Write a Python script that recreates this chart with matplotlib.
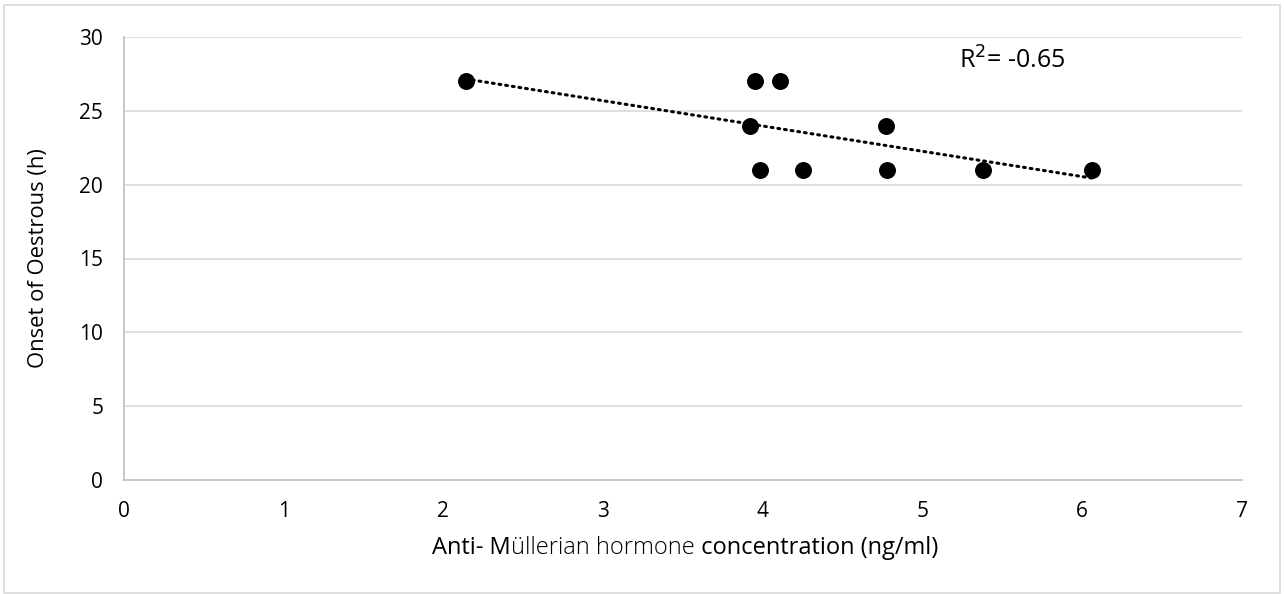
import numpy as np
import matplotlib.pyplot as plt
from matplotlib.offsetbox import TextArea, HPacker, AnchoredOffsetbox

plt.rcParams['font.family'] = ['Open Sans', 'DejaVu Sans']

# data
amh = [2.14, 3.95, 4.11, 3.92, 3.98, 4.25, 4.77, 4.78, 5.38, 6.06]
onset = [27, 27, 27, 24, 21, 21, 24, 21, 21, 21]
x_ticks = [0, 1, 2, 3, 4, 5, 6, 7]
y_ticks = [0, 5, 10, 15, 20, 25, 30]

fig = plt.figure(figsize=(12.84, 5.94), dpi=100)
ax = fig.add_axes([124 / 1284, 1 - 480 / 594, 1118 / 1284, 443 / 594])

# grid
for yv in y_ticks[1:]:
    ax.axhline(yv, color='#d9d9d9', lw=1.2, zorder=0)

ax.scatter(amh, onset, s=125, color='black', zorder=3)

# linear trendline
slope, icpt = np.polyfit(amh, onset, 1)
xs = np.array([min(amh), max(amh)])
ax.plot(xs, slope * xs + icpt, color='black', lw=2.2, linestyle=(0, (0.6, 1.6)),
        dash_capstyle='round', zorder=2)

ax.text(5.23, 28.4, 'R$^2$= -0.65', fontsize=18, va='center', ha='left')

ax.set_xlim(0, 7)
ax.set_ylim(0, 30)
ax.set_xticks(x_ticks)
ax.set_yticks(y_ticks)
ax.tick_params(length=0, labelsize=15, pad=15)
for s in ['top', 'right']:
    ax.spines[s].set_visible(False)
for s in ['left', 'bottom']:
    ax.spines[s].set_color('#bfbfbf')
    ax.spines[s].set_linewidth(1.2)

ax.set_ylabel('Onset of Oestrous (h)', fontsize=15.8, labelpad=22)

# x label with the middle words in a lighter weight
parts = [TextArea('Anti- M', textprops=dict(fontsize=17)),
         TextArea('üllerian hormone', textprops=dict(fontsize=17, fontweight='light')),
         TextArea(' concentration (ng/ml)', textprops=dict(fontsize=17))]
box = HPacker(children=parts, align='baseline', pad=0, sep=0)
xlab = AnchoredOffsetbox(loc='center', child=box, pad=0, frameon=False,
                         bbox_to_anchor=(685 / 1284, 1 - 548 / 594),
                         bbox_transform=fig.transFigure, borderpad=0)
fig.add_artist(xlab)

# chart border
fig.patches.append(plt.Rectangle((4 / 1284, 0.002), 1 - 8 / 1284, 1 - 6 / 594,
                                 transform=fig.transFigure, fill=False,
                                 edgecolor='#d9d9d9', lw=1.2))

fig.savefig('out.png', dpi=100)
